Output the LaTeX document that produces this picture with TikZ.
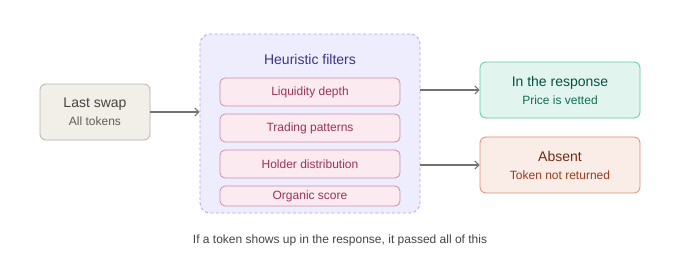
\documentclass[tikz,border=0pt]{standalone}
\usepackage{fontspec}
\setmainfont{Liberation Sans}
\usetikzlibrary{arrows.meta, positioning}
\definecolor{mydark}{RGB}{68,68,65}
\definecolor{mysub}{RGB}{95,94,90}
\definecolor{myline}{RGB}{180,178,169}
\definecolor{hdrgray}{RGB}{241,239,232}
\definecolor{myviolet}{RGB}{60,52,137}
\definecolor{lnviolet}{RGB}{170,164,232}
\definecolor{hdrviolet}{RGB}{238,237,254}
\definecolor{mypink}{RGB}{153,53,86}
\definecolor{lnpink}{RGB}{208,140,166}
\definecolor{hdrpink}{RGB}{251,234,240}
\definecolor{mygreen}{RGB}{8,80,65}
\definecolor{subgreen}{RGB}{15,110,86}
\definecolor{lngreen}{RGB}{93,202,165}
\definecolor{hdrgreen}{RGB}{225,245,238}
\definecolor{myred}{RGB}{113,43,19}
\definecolor{subred}{RGB}{153,60,29}
\definecolor{lnred}{RGB}{220,140,115}
\definecolor{hdrred}{RGB}{250,236,231}
\definecolor{myarrow}{RGB}{115,114,108}
\newcommand{\bigtxt}{\fontsize{14}{18}\selectfont}
\newcommand{\smalltxt}{\fontsize{12}{14}\selectfont}
\tikzset{
  graybox/.style={rectangle, draw=myline, fill=hdrgray, text=mydark,
    minimum width=110pt, minimum height=56pt, align=center,
    font=\bigtxt, rounded corners=6pt, line width=0.8pt},
  filterbox/.style={rectangle, draw=lnpink, fill=hdrpink, text=mypink,
    minimum width=180pt, minimum height=28pt, align=center,
    font=\smalltxt, rounded corners=5pt, line width=0.8pt},
  greenbox/.style={rectangle, draw=lngreen, fill=hdrgreen, text=mygreen,
    minimum width=160pt, minimum height=56pt, align=center,
    font=\bigtxt, rounded corners=6pt, line width=0.8pt},
  redbox/.style={rectangle, draw=lnred, fill=hdrred, text=myred,
    minimum width=160pt, minimum height=56pt, align=center,
    font=\bigtxt, rounded corners=6pt, line width=0.8pt},
  arrow/.style={-{Straight Barb[length=4pt, width=8pt]}, line width=1.1pt, color=myarrow}
}
\begin{document}
\begin{tikzpicture}[x=1pt, y=-1pt]
  \useasboundingbox (0,0) rectangle (680,260);

  % Input
  \node[graybox] (swap) at (95,112) {Last swap\\{\smalltxt\color{mysub}All tokens}};

  % Filter group
  \node[rectangle, draw=lnviolet, fill=hdrviolet, dash pattern=on 3pt off 2.5pt,
    rounded corners=10pt, minimum width=220pt, minimum height=179pt,
    line width=0.8pt] (group) at (310,123.5) {};
  \node[text=myviolet, font=\bigtxt] (title) at (310,59) {Heuristic filters};
  \node[filterbox] (liq) at (310,92) {Liquidity depth};
  \node[filterbox, below=7.2pt of liq] (trade) {Trading patterns};
  \node[filterbox, below=7.2pt of trade] (holder) {Holder distribution};
  \node[filterbox, minimum height=20pt, below=7.2pt of holder] (organic) {Organic score};

  % Outcomes
  \node[greenbox] (resp) at (560,90) {In the response\\{\smalltxt\color{subgreen}Price is vetted}};
  \node[redbox] (absent) at (560,165) {Absent\\{\smalltxt\color{subred}Token not returned}};

  % Paths
  \draw[arrow] (swap.east) -- (swap.east -| group.west);
  \draw[arrow] (group.east |- resp.west) -- (resp.west);
  \draw[arrow] (group.east |- absent.west) -- (absent.west);

  % Note
  \node[text=mydark, font=\smalltxt] (note) at (340,240) {If a token shows up in the response, it passed all of this};
\end{tikzpicture}
\end{document}
